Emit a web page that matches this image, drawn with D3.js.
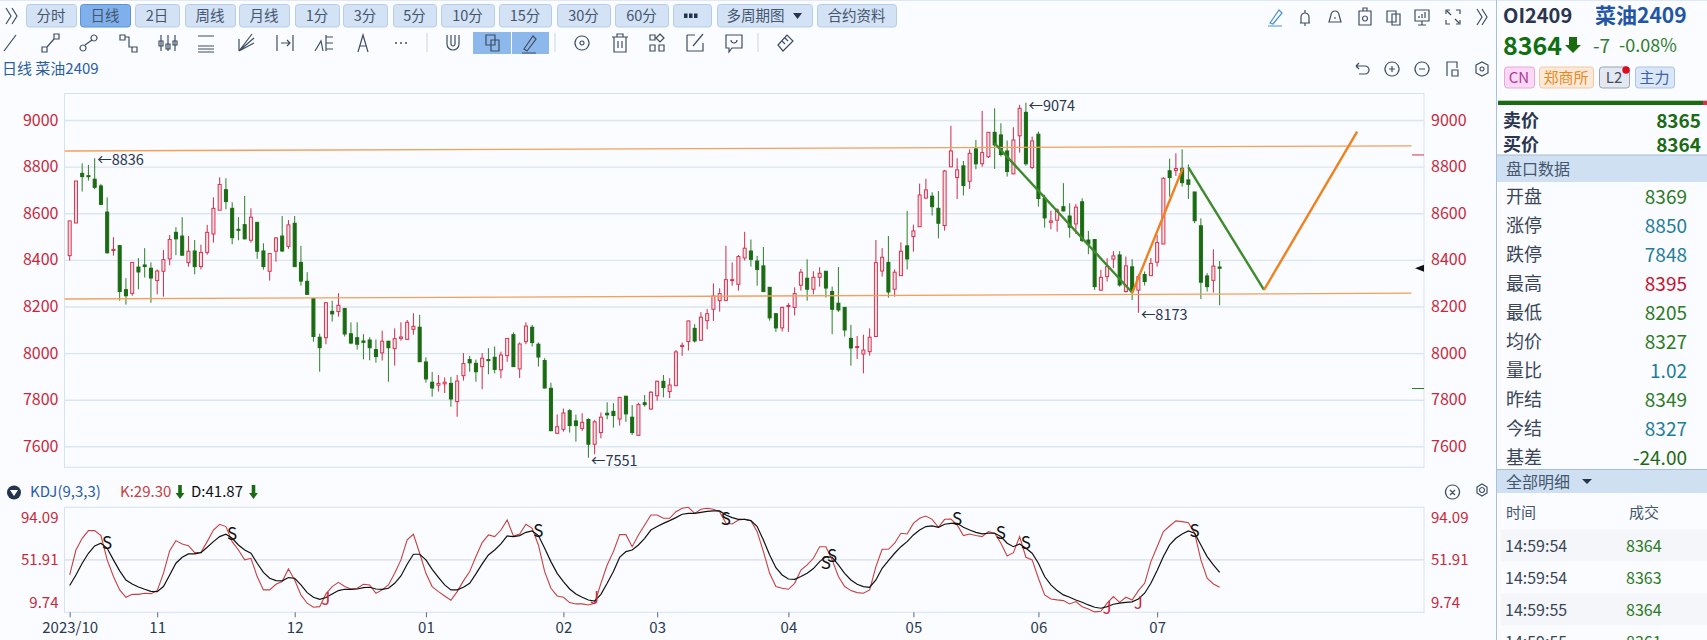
<!DOCTYPE html>
<html>
<head>
<meta charset="utf-8">
<script src="https://cdnjs.cloudflare.com/ajax/libs/d3/7.8.5/d3.min.js"></script>
<style>
html, body { margin: 0; padding: 0; background: #fafcff; overflow: hidden; }
svg { display: block; }
text { font-family: "Noto Sans CJK SC", "Noto Sans", sans-serif; }
</style>
</head>
<body>
<svg id="chart" width="1707" height="640"></svg>
<script>
// daily candles
const opens = [8418,8558,8771,8761,8746,8717,8605,8440,8461,8272,
8256,8369,8378,8364,8311,8351,8404,8518,8502,8388,
8438,8371,8432,8511,8613,8701,8621,8531,8551,8484,
8561,8438,8351,8437,8502,8458,8557,8389,8308,8234,
8068,8066,8179,8178,8191,8083,8066,8052,8056,8015,
8001,8051,8019,8063,8059,8102,8111,7962,7875,7862,
7868,7870,7792,7903,7972,7956,7942,7972,7982,7928,
7989,8079,7932,8049,8111,8038,7968,7849,7656,7673,
7753,7709,7677,7715,7609,7659,7742,7750,7717,7815,
7725,7647,7787,7760,7817,7879,7835,7860,8028,8049,
8106,8055,8139,8188,8225,8226,8312,8295,8408,8438,
8395,8374,8282,8169,8108,8201,8196,8291,8321,8274,
8325,8351,8264,8214,8196,8063,8025,7996,8006,8071,
8352,8389,8274,8332,8460,8500,8542,8665,8673,8621,
8547,8799,8753,8803,8737,8876,8812,8842,8947,8936,
8867,8769,8932,9033,8796,8939,8664,8561,8570,8628,
8588,8554,8649,8485,8487,8270,8328,8403,8421,8264,
8370,8270,8337,8332,8390,8468,8782,8783,8793,8743,
8691,8546,8331,8312,8369];
const highs = [8567,8738,8814,8807,8836,8726,8668,8497,8464,8321,
8389,8407,8450,8389,8359,8442,8507,8540,8583,8502,
8485,8465,8550,8668,8754,8750,8647,8583,8674,8621,
8562,8471,8428,8497,8588,8571,8588,8460,8347,8236,
8083,8218,8224,8257,8194,8132,8132,8081,8068,8058,
8096,8052,8106,8132,8142,8171,8164,7982,7919,7906,
7895,7898,7906,8000,7988,7972,8000,8021,8028,8006,
8063,8089,8046,8132,8121,8046,7978,7873,7737,7762,
7759,7736,7742,7720,7713,7745,7789,7785,7810,7816,
7777,7787,7820,7837,7882,7906,7892,8013,8045,8139,
8124,8175,8189,8299,8278,8460,8389,8421,8520,8487,
8417,8455,8284,8171,8199,8214,8282,8361,8402,8351,
8368,8352,8285,8369,8198,8121,8073,8079,8106,8485,
8450,8502,8359,8475,8610,8551,8727,8748,8690,8695,
8786,8975,8836,8824,8874,8914,9039,8947,9050,8986,
8912,8969,9065,9074,8929,8950,8679,8611,8621,8729,
8643,8640,8664,8524,8488,8357,8407,8437,8437,8414,
8403,8338,8350,8408,8507,8754,8834,8857,8874,8809,
8693,8578,8343,8445,8395];
const lows = [8397,8558,8693,8740,8703,8637,8428,8418,8225,8208,
8246,8274,8324,8216,8252,8242,8377,8420,8418,8371,
8338,8359,8422,8474,8613,8617,8467,8484,8488,8474,
8404,8358,8311,8392,8434,8447,8371,8289,8251,8049,
7920,8038,8135,8156,8071,8038,8015,7973,7969,7959,
7968,7877,7946,8053,8056,8079,7963,7873,7813,7835,
7829,7770,7727,7882,7920,7877,7845,7909,7913,7892,
7963,7942,7893,8038,8028,7942,7849,7665,7652,7663,
7659,7620,7666,7551,7566,7634,7716,7680,7689,7705,
7649,7646,7770,7757,7796,7810,7807,7859,7988,8011,
8045,8053,8102,8138,8178,8225,8289,8268,8397,8371,
8289,8262,8139,8091,8093,8091,8161,8268,8225,8252,
8285,8238,8081,8176,8071,7946,7975,7913,7989,8071,
8328,8238,8242,8332,8359,8435,8542,8663,8590,8492,
8525,8799,8661,8676,8704,8789,8800,8837,8790,8843,
8757,8767,8860,8804,8789,8628,8538,8531,8521,8607,
8495,8511,8476,8424,8271,8268,8307,8364,8285,8260,
8228,8173,8290,8331,8371,8467,8671,8760,8714,8661,
8557,8232,8264,8260,8205];
const closes = [8567,8738,8757,8757,8711,8638,8430,8445,8264,8246,
8389,8348,8371,8322,8352,8401,8487,8490,8420,8437,
8371,8432,8518,8621,8723,8650,8495,8528,8490,8583,
8437,8371,8427,8494,8438,8550,8371,8309,8252,8071,
8023,8216,8168,8205,8082,8043,8038,8046,8023,7985,
8051,8023,8062,8069,8132,8115,7963,7889,7850,7870,
7875,7803,7880,7955,7958,7920,7978,7969,7930,7992,
8063,7942,8039,8116,8045,7983,7850,7667,7684,7743,
7689,7689,7703,7609,7705,7725,7735,7732,7810,7739,
7659,7779,7779,7832,7879,7852,7863,8005,8033,8138,
8052,8154,8169,8245,8255,8315,8315,8414,8450,8402,
8359,8264,8151,8108,8196,8204,8255,8347,8274,8325,
8342,8279,8188,8185,8099,8022,8028,8013,8068,8388,
8411,8262,8347,8437,8404,8524,8678,8700,8628,8557,
8781,8867,8786,8719,8857,8812,8860,8947,8893,8852,
8779,8914,9050,8812,8910,8663,8580,8567,8614,8610,
8540,8626,8483,8468,8285,8325,8371,8417,8292,8374,
8264,8328,8307,8385,8474,8750,8753,8792,8731,8724,
8568,8304,8285,8373,8364];

// KDJ lines
const kValues = [37.0,61.7,73.3,80.9,80.9,76.0,51.9,35.4,22.2,14.9,
17.8,17.8,18.9,18.5,21.5,38.6,61.1,71.0,67.7,66.0,
59.1,59.4,70.0,81.5,87.2,84.9,70.0,61.7,51.9,53.5,
35.4,22.2,22.2,27.8,30.4,42.9,32.0,17.2,9.0,5.0,
5.6,18.2,25.5,29.7,25.5,23.1,23.8,27.8,27.1,18.9,
22.2,27.1,38.6,51.9,71.7,77.3,58.5,38.6,25.5,20.5,
16.2,11.9,20.5,31.1,40.3,55.2,69.0,76.6,75.0,81.5,
91.5,75.6,77.6,87.2,83.2,66.7,40.3,23.8,16.2,14.9,
9.6,8.3,8.3,7.3,9.0,28.7,46.9,60.1,76.9,76.9,
65.0,76.6,86.5,96.4,96.4,93.1,93.1,99.7,103,104,
98.0,102,103,102,99.7,88.1,87.5,91.5,92.1,90.8,
79.9,60.1,38.6,25.5,23.8,22.8,28.7,41.9,46.9,53.5,
65.0,65.0,51.9,35.4,25.5,21.5,19.5,18.9,22.2,45.2,
62.4,62.4,68.4,78.3,77.6,88.1,93.1,95.4,92.1,84.2,
92.1,92.4,86.5,76.0,77.6,76.0,75.0,79.9,78.3,68.4,
55.8,59.1,75.0,54.5,51.9,33.7,17.2,13.2,12.3,11.6,
8.3,10.6,5.6,3.3,0.4,1.0,9.0,15.6,9.9,14.9,
12.2,21.5,28.7,50.2,65.0,79.9,85.5,90.5,89.8,88.8,
78.3,51.9,33.7,28.1,24.8];
const dValues = [26.5,37.0,48.6,58.5,65.7,68.4,63.4,51.9,41.0,32.0,
28.1,25.1,22.8,20.8,20.5,25.5,37.0,48.6,54.5,57.8,
57.8,59.1,64.4,70.0,75.0,77.3,73.3,66.7,61.7,58.5,
48.6,39.6,33.7,31.4,31.1,34.4,33.7,27.1,19.5,14.9,
12.9,14.6,18.2,21.5,22.8,22.8,23.1,24.5,24.8,23.1,
22.8,23.8,28.7,36.0,47.6,57.5,57.5,51.9,42.6,34.7,
27.1,22.2,22.2,24.8,28.7,38.0,47.9,56.8,61.7,67.7,
75.6,75.0,76.0,79.2,80.6,76.0,63.4,50.2,38.6,30.4,
23.1,18.2,14.9,12.2,11.2,17.8,28.7,40.3,54.5,60.1,
61.7,66.7,73.3,81.5,84.9,88.1,90.8,93.8,97.1,98.0,
98.0,99.0,100,100.4,100.4,96.4,93.8,92.1,92.1,90.8,
84.9,71.7,56.8,44.2,37.0,33.0,32.7,35.4,38.6,43.3,
50.2,55.2,54.5,46.9,38.6,32.0,27.8,25.5,24.8,32.0,
43.6,51.2,58.5,65.0,70.0,76.6,81.5,84.9,85.5,84.2,
87.2,88.1,88.1,84.2,81.5,79.2,77.6,78.3,78.3,75.0,
68.4,65.0,67.7,63.4,58.5,48.6,35.4,27.1,21.5,17.2,
14.9,12.2,9.9,7.3,5.0,4.0,5.6,8.0,9.0,9.9,
10.3,13.2,18.9,28.7,41.3,55.2,66.7,73.3,77.6,80.6,
78.3,66.7,55.2,46.9,39.6];

const priceTicks = [9000, 8800, 8600, 8400, 8200, 8000, 7800, 7600];
const kdjTicks = [94.09, 51.91, 9.74];
const monthIdx = [0, 14, 36, 57, 79, 94, 115, 135, 155, 174];
const monthLabels = ["2023/10", "11", "12", "01", "02", "03", "04", "05", "06", "07"];

// hand drawn lines on the chart: [index, price] ends
const hLineUpper = [[-0.8, 8867], [214.7, 8889]];
const hLineLower = [[-0.8, 8232], [214.7, 8257]];
const greenLegs = [[[148, 8900], [170, 8260]], [[179, 8797], [191.1, 8271]]];
const orangeLegs = [[[170, 8257], [178.1, 8793]], [[191.1, 8271], [206, 8950]]];

const extremeIdx = [4, 153, 171, 83];
const extremeVal = [8836, 9074, 8173, 7551];

const sellIdx = [6, 26, 75, 105, 121, 122, 142, 149, 153, 180];
const sellVal = [68.4, 77.6, 80.2, 92.1, 48.6, 55.8, 92.1, 78.9, 69.0, 80.6];
const buyIdx = [41, 84, 166, 171];
const buyVal = [12.9, 13.9, 4.0, 9.6];

const periodLabels = ["分时", "日线", "2日", "周线", "月线", "1分", "3分", "5分", "10分", "15分", "30分", "60分", "", "多周期图", "合约资料"];
const periodLeft = [26, 80, 135, 185, 239, 295, 343, 393, 441, 499, 557, 615, 673, 717, 817];
const periodRight = [76, 130, 179, 235, 289, 339, 387, 436, 494, 551, 610, 668, 711, 812, 896];

const quoteLabels = ["开盘", "涨停", "跌停", "最高", "最低", "均价", "量比", "昨结", "今结", "基差"];
const quoteValues = ["8369", "8850", "7848", "8395", "8205", "8327", "1.02", "8349", "8327", "-24.00"];
const quoteColors = ["#2d7a1f", "#1f7d9a", "#1f7d9a", "#c8102e", "#2d7a1f", "#2d7a1f", "#1f7d9a", "#2d7a1f", "#1f7d9a", "#1c6b14"];
const tradeTimes = ["14:59:54", "14:59:54", "14:59:55", "14:59:55"];
const tradePrices = ["8364", "8363", "8364", "8361"];

const RED = "#c8283c", GREEN = "#1a6b12", INK = "#3f4d63";

const svg = d3.select("#chart");

// scales
const x = d3.scaleLinear().domain([-0.83, 216.7]).range([64.5, 1424]);
const y = d3.scaleLinear().domain([7510, 9113.6]).range([467.3, 93.5]);
const yKdj = d3.scaleLinear().domain([0, 104]).range([612.3, 507.3]);

function label(g, str, px, py, size, color, anchor, weight) {
    return g.append("text")
        .attr("x", px).attr("y", py)
        .attr("dy", "0.35em")
        .attr("font-size", size)
        .attr("fill", color)
        .attr("text-anchor", anchor || "start")
        .attr("font-weight", weight || "normal")
        .text(str);
}

drawToolbar();
drawPricePanel();
drawKdjPanel();
drawQuotePanel();

function drawPricePanel() {
    const g = svg.append("g");
    g.append("rect").attr("x", 64.5).attr("y", 93.5).attr("width", 1359.5).attr("height", 373.8)
        .attr("fill", "#fafcff").attr("stroke", "#d6e2f0");

    // grid and both axes
    const grid = g.append("g").attr("transform", "translate(64.5,0)")
        .call(d3.axisRight(y).tickValues(priceTicks).tickSize(1359.5).tickFormat(""));
    grid.select(".domain").remove();
    grid.selectAll("line").attr("stroke", "#dbe5f2").attr("stroke-width", 1.4);

    [[d3.axisLeft(y), 58.5], [d3.axisRight(y), 1431]].forEach(function(a) {
        const ax = g.append("g").attr("transform", "translate(" + a[1] + ",0)")
            .call(a[0].tickValues(priceTicks).tickSize(0).tickPadding(0).tickFormat(d3.format("d")));
        ax.select(".domain").remove();
        ax.selectAll("text").attr("font-size", 16).attr("fill", RED)
            .style("font-family", '"Noto Sans CJK SC"');
    });

    // wicks then bodies
    const idx = d3.range(opens.length);
    const up = i => closes[i] >= opens[i];

    g.selectAll(".wick").data(idx).enter().append("line")
        .attr("class", "wick")
        .attr("x1", i => x(i)).attr("x2", i => x(i))
        .attr("y1", i => y(highs[i])).attr("y2", i => y(lows[i]))
        .attr("stroke", i => up(i) ? "#cf2b47" : "#2f7f28")
        .attr("stroke-width", 1);

    g.selectAll(".body").data(idx).enter().append("rect")
        .attr("class", "body")
        .attr("x", i => x(i) - 1.5)
        .attr("width", 3)
        .attr("y", i => y(Math.max(opens[i], closes[i])))
        .attr("height", i => Math.max(1, Math.abs(y(opens[i]) - y(closes[i]))))
        .attr("fill", i => up(i) ? "#fbe3e6" : GREEN)
        .attr("stroke", i => up(i) ? "#d8304e" : GREEN)
        .attr("stroke-width", 1);

    // drawn lines
    const line = d3.line().x(d => x(d[0])).y(d => y(d[1]));
    [hLineUpper, hLineLower].forEach(function(d) {
        g.append("path").attr("d", line(d)).attr("fill", "none")
            .attr("stroke", "#f3a059").attr("stroke-width", 1.3);
    });
    greenLegs.forEach(function(d) {
        g.append("path").attr("d", line(d)).attr("fill", "none")
            .attr("stroke", "#3f8a2c").attr("stroke-width", 2.4);
    });
    orangeLegs.forEach(function(d) {
        g.append("path").attr("d", line(d)).attr("fill", "none")
            .attr("stroke", "#f0811f").attr("stroke-width", 2.4);
    });

    // high / low notes
    const noteDy = [2, 3, 2, 3];
    extremeIdx.forEach(function(i, n) {
        label(g, "←" + extremeVal[n], x(i) + 2.5, y(extremeVal[n]) + noteDy[n], 14.5, "#2a3550");
    });

    // limit marks and last price on the right edge
    g.append("line").attr("x1", 1412).attr("x2", 1424).attr("y1", y(8850)).attr("y2", y(8850)).attr("stroke", "#d8304e");
    g.append("line").attr("x1", 1412).attr("x2", 1424).attr("y1", y(7848)).attr("y2", y(7848)).attr("stroke", "#2f7f28");
    g.append("path").attr("fill", "#111")
        .attr("d", "M1415," + y(8364) + "L1424," + (y(8364) - 3.5) + "V" + (y(8364) + 3.5) + "Z");

    label(g, "日线 菜油2409", 2, 69, 15, "#2a5ea0");
}

function drawKdjPanel() {
    const g = svg.append("g");
    g.append("rect").attr("x", 64.5).attr("y", 507.3).attr("width", 1359.5).attr("height", 105)
        .attr("fill", "#fafcff").attr("stroke", "#d6e2f0");
    g.append("line").attr("x1", 64.5).attr("x2", 1424).attr("y1", yKdj(51.91)).attr("y2", yKdj(51.91))
        .attr("stroke", "#dfe6f0").attr("stroke-width", 1.8);

    [[d3.axisLeft(yKdj), 58.5], [d3.axisRight(yKdj), 1431]].forEach(function(a) {
        const ax = g.append("g").attr("transform", "translate(" + a[1] + ",0)")
            .call(a[0].tickValues(kdjTicks).tickSize(0).tickPadding(0).tickFormat(d3.format(".2f")));
        ax.select(".domain").remove();
        ax.selectAll("text").attr("font-size", 15).attr("fill", RED)
            .style("font-family", '"Noto Sans CJK SC"');
    });

    const ax = g.append("g").attr("transform", "translate(0,612.3)")
        .call(d3.axisBottom(x).tickValues(monthIdx).tickSize(5).tickPadding(5)
            .tickFormat((d, i) => monthLabels[i]));
    ax.select(".domain").remove();
    ax.selectAll("line").attr("stroke", "#5a6a80");
    ax.selectAll("text").attr("font-size", 15).attr("fill", "#2a3a52")
        .style("font-family", '"Noto Sans CJK SC"');

    const line = d3.line().x((d, i) => x(i)).y(d => yKdj(d));
    g.append("path").attr("d", line(kValues)).attr("fill", "none").attr("stroke", "#c8403f").attr("stroke-width", 1.1);
    g.append("path").attr("d", line(dValues)).attr("fill", "none").attr("stroke", "#111").attr("stroke-width", 1.2);

    sellIdx.forEach(function(i, n) {
        label(g, "S", x(i), yKdj(sellVal[n]), 17, "#111", "middle");
    });
    buyIdx.forEach(function(i, n) {
        label(g, "J", x(i), yKdj(buyVal[n]), 17, RED, "middle");
    });

    // legend row
    g.append("circle").attr("cx", 14).attr("cy", 492.5).attr("r", 7).attr("fill", "#24344f");
    g.append("path").attr("d", "M10,490h8l-4,6z").attr("fill", "#fff");
    label(g, "KDJ(9,3,3)", 30, 492, 15, "#2a5ea0");
    label(g, "K:29.30", 120, 492, 15, "#c8403f");
    arrowDown(g, 180, 492, 1);
    label(g, "D:41.87", 191, 492, 15, "#111");
    arrowDown(g, 253.5, 492, 1);

    icon(g, "M1452.5,485a7,7 0 1,0 .01,0M1450,490l5,5M1455,490l-5,5", 0, 0);
    icon(g, "M1477,487l5-3 5,3v6l-5,3-5-3zM1482,487.5a2.5,2.5 0 1,0 .01,0", 0, 0);
}

function arrowDown(g, cx, cy, s) {
    g.append("path").attr("fill", GREEN)
        .attr("d", "M" + (cx - 1.8 * s) + "," + (cy - 7 * s) + "h" + 3.6 * s + "v" + 8 * s + "h" + 2.6 * s +
            "l-" + 4.4 * s + "," + 6 * s + "l-" + 4.4 * s + ",-" + 6 * s + "h" + 2.6 * s + "z");
}

function icon(g, d, px, py) {
    g.append("path").attr("d", d).attr("transform", "translate(" + px + "," + py + ")")
        .attr("fill", "none").attr("stroke", INK).attr("stroke-width", 1.2);
}

function drawToolbar() {
    const g = svg.append("g");
    g.append("rect").attr("width", 1707).attr("height", 1).attr("fill", "#dfe9f5");

    icon(g, "M6,8L11,16L6,24M12,8L17,16L12,24", 0, 0);

    periodLabels.forEach(function(t, i) {
        const on = i === 1;
        const mid = (periodLeft[i] + periodRight[i]) / 2;
        g.append("rect")
            .attr("x", periodLeft[i] + 0.5).attr("y", 4.5)
            .attr("width", periodRight[i] - periodLeft[i]).attr("height", 22.5)
            .attr("rx", 3)
            .attr("fill", on ? "#7fb0ec" : "#d3e2f5")
            .attr("stroke", on ? "#5c93d8" : "#b5cde8");
        label(g, t, t === "多周期图" ? mid - 9 : mid, 16, 14.5, "#45566e", "middle");
    });
    g.selectAll(".dots").data([684, 689, 694]).enter().append("rect")
        .attr("x", d => d).attr("y", 13.5).attr("width", 3.5).attr("height", 4.5).attr("fill", "#24344f");
    g.append("path").attr("d", "M793,13h9l-4.5,6z").attr("fill", "#24344f");

    // drawing tool row
    g.append("rect").attr("x", 473).attr("y", 32).attr("width", 38).attr("height", 22).attr("fill", "#8db8ec");
    g.append("rect").attr("x", 512).attr("y", 32).attr("width", 37).attr("height", 22).attr("fill", "#8db8ec");
    const toolIcons = [
        [10, "M-6,8L6,-8"],
        [50, "M-8,4h5v5h-5zM4,-9h5v5h-5zM-3,4L4,-4"],
        [89, "M-6,2a3,3 0 1,0 .01,0M5,-8a3,3 0 1,0 .01,0M-4,2L3,-3"],
        [128, "M-8,-8h5v5h-5zM4,4h5v5h-5zM-3,-6h4v10h3"],
        [168, "M-7,-8v16M0,-8v16M7,-8v16M-9,-2h4v5h-4zM-2,1h4v5h-4zM5,-2h4v4h-4z"],
        [206, "M-8,-7h16M-8,3h16M-8,6h16M-8,9h16"],
        [245, "M-6,8L7,-9M-6,8L9,-5M-6,8L9,0M-6,8V-4"],
        [285, "M-8,-8v16M8,-8v16M-4,0h9M2,-3l3,3-3,3"],
        [324, "M-9,8L-3,-2L-1,8M2,-8v16M2,-6h7M2,0h7M2,6h7"],
        [363, "M-5,9L0,-8L5,9M-3,3h6"],
        [453, "M-6,-8v9a6,6 0 0,0 12,0v-9M-2,-8v9a2,2 0 0,0 4,0v-9"],
        [492, "M-6,-8h9v10h-9zM-1,-3h8v11h-8z"],
        [530, "M-6,6L3,-7L6,-4L-3,8zM-8,10h14"],
        [582, "M0,-7a7,7 0 1,0 .01,0M0,-2a2,2 0 1,0 .01,0"],
        [620, "M-8,-6h16M-3,-6v-3h6v3M-6,-6v15h12v-15M-2,-2v7M2,-2v7"],
        [657, "M-7,-8h5v5h-5zM3,-9l4,4-4,4-4-4zM-7,2h5v6h-5zM2,2h5v6h-5z"],
        [695, "M-8,-8h8M-8,-8v16h16v-8M8,-9L-2,3"],
        [734, "M-8,-8h16v13h-10l-3,4v-4h-3zM-3,-3a3,3 0 0,0 6,0"],
        [785, "M-7,2L2,-8L8,-2L-2,8zM-3,-2l3,3M0,-5l3,3"]
    ];
    toolIcons.forEach(d => icon(g, d[1], d[0], 43));
    g.selectAll(".dot3").data([396, 401, 406]).enter().append("circle")
        .attr("cx", d => d).attr("cy", 43).attr("r", 1).attr("fill", INK);
    [427, 555, 758].forEach(function(px) {
        g.append("line").attr("x1", px).attr("x2", px).attr("y1", 33).attr("y2", 52).attr("stroke", "#c8d4e4");
    });

    // top right icons
    const topIcons = [
        [1305, "M-5,6h10M-4,6v-6a4,4 0 0,1 8,0v6M0,6v3M0,-4v-3"],
        [1335, "M-6,5h12l-2,-7a4,4 0 0,0 -8,0zM-1,1h2"],
        [1365, "M-6,-6h12v14h-12zM-2,-6v-3h4v3M0,-1a2.5,2.5 0 1,0 .01,0"],
        [1394, "M-7,-6h9v11h-9zM-2,-3h8v11h-8z"],
        [1422, "M-7,-7h14v11h-14zM0,4v4M-4,8h8M-3,1v-2M0,1v-4M3,1v-6"],
        [1453, "M-7,-3v-4h4M3,-7h4v4M7,3v4h-4M-3,7h-4v-4M-6,-6l4,4M6,6l-4,-4"],
        [1482, "M-5,-8L0,0L-5,8M0,-8L5,0L0,8"]
    ];
    topIcons.forEach(d => icon(g, d[1], d[0], 17));
    g.append("path").attr("d", "M1270,23L1279,10L1282,13L1273,24ZM1268,26H1282").attr("fill", "none").attr("stroke", "#4a90d9").attr("stroke-width", 1.2);

    const viewIcons = [
        [1362, "M-6,-3h9a4,4 0 0,1 0,8h-6M-6,-3l3,-3M-6,-3l3,3"],
        [1392, "M0,-7a7,7 0 1,0 .01,0M-3,0h6M0,-3v6"],
        [1422, "M0,-7a7,7 0 1,0 .01,0M-3,0h6"],
        [1453, "M-6,7v-14h10v6M-1,1h6v6h-6z"],
        [1482, "M-6,-4l6,-3 6,3v8l-6,3-6,-3zM0,-2a2,2 0 1,0 .01,0"]
    ];
    viewIcons.forEach(d => icon(g, d[1], d[0], 69));
}

function drawQuotePanel() {
    const g = svg.append("g");
    g.append("line").attr("x1", 1496.5).attr("x2", 1496.5).attr("y1", 0).attr("y2", 640).attr("stroke", "#a8c0dc");

    label(g, "OI2409", 1503, 16, 20, "#2a3550", "start", "bold");
    label(g, "菜油2409", 1595, 16, 21, "#2255a4", "start", "bold");
    label(g, "8364", 1503, 46, 25, "#0f7010", "start", "bold");
    // big down arrow next to the last price
    g.append("path").attr("fill", GREEN).attr("d", "M1569,37h8v8h4l-8,8l-8,-8h4z");
    label(g, "-7", 1593, 46, 19, "#2f7d2f");
    label(g, "-0.08%", 1619, 46, 18, "#2f7d2f");

    const badges = [
        ["CN", 1504, 30, "#fbd9f5", "#e9a6de", "#b03a9c"],
        ["郑商所", 1539, 54, "#fde9d9", "#f3c9a3", "#e88a20"],
        ["L2", 1599, 30, "#e4e8f0", "#98a4b6", "#45505f"],
        ["主力", 1635, 39, "#dbe6f7", "#a8c3e8", "#3a63a8"]
    ];
    badges.forEach(function(b) {
        g.append("rect").attr("x", b[1] + 0.5).attr("y", 67).attr("width", b[2]).attr("height", 21).attr("rx", 3)
            .attr("fill", b[3]).attr("stroke", b[4]);
        label(g, b[0], b[1] + b[2] / 2, 77.5, 15, b[5], "middle");
    });
    g.append("circle").attr("cx", 1626).attr("cy", 70).attr("r", 3.7).attr("fill", "#e00a1e");

    g.append("rect").attr("x", 1498).attr("y", 100.7).attr("width", 205).attr("height", 4.3).attr("fill", GREEN);
    g.append("rect").attr("x", 1703).attr("y", 100.7).attr("width", 4).attr("height", 4.3).attr("fill", "#d8304e");

    label(g, "卖价", 1503, 121, 18, "#2a3550", "start", "bold");
    label(g, "买价", 1503, 145, 18, "#2a3550", "start", "bold");
    label(g, "8365", 1701, 121, 19, "#1c6b14", "end", "bold");
    label(g, "8364", 1701, 145, 19, "#1c6b14", "end", "bold");

    g.append("rect").attr("x", 1497).attr("y", 155).attr("width", 210).attr("height", 27).attr("fill", "#cfe0f2");
    g.append("line").attr("x1", 1497).attr("x2", 1707).attr("y1", 155).attr("y2", 155).attr("stroke", "#a8bcd4");
    label(g, "盘口数据", 1506, 169, 16, "#45566e");

    quoteLabels.forEach(function(t, i) {
        const py = 197 + i * 29;
        label(g, t, 1506, py, 18, "#3a4658");
        label(g, quoteValues[i], 1687, py, 19, quoteColors[i], "end");
    });

    g.append("rect").attr("x", 1497).attr("y", 469.5).attr("width", 210).attr("height", 23.5).attr("fill", "#cfe0f2");
    g.append("line").attr("x1", 1497).attr("x2", 1707).attr("y1", 469.5).attr("y2", 469.5).attr("stroke", "#a8bcd4");
    label(g, "全部明细", 1506, 482, 16, "#45566e");
    g.append("path").attr("d", "M1582,479h10l-5,5z").attr("fill", "#24344f");

    label(g, "时间", 1506, 513, 15, "#45566e");
    label(g, "成交", 1629, 513, 15, "#45566e");

    tradeTimes.forEach(function(t, i) {
        const py = 546 + i * 32;
        if (i % 2 === 0) {
            g.append("rect").attr("x", 1501).attr("y", py - 16.5).attr("width", 206).attr("height", 32).attr("fill", "#f4f6fa");
        }
        label(g, t, 1505, py, 16, "#3a4658");
        label(g, tradePrices[i], 1626, py, 16, "#2d7a1f");
    });
}
</script>
</body>
</html>
